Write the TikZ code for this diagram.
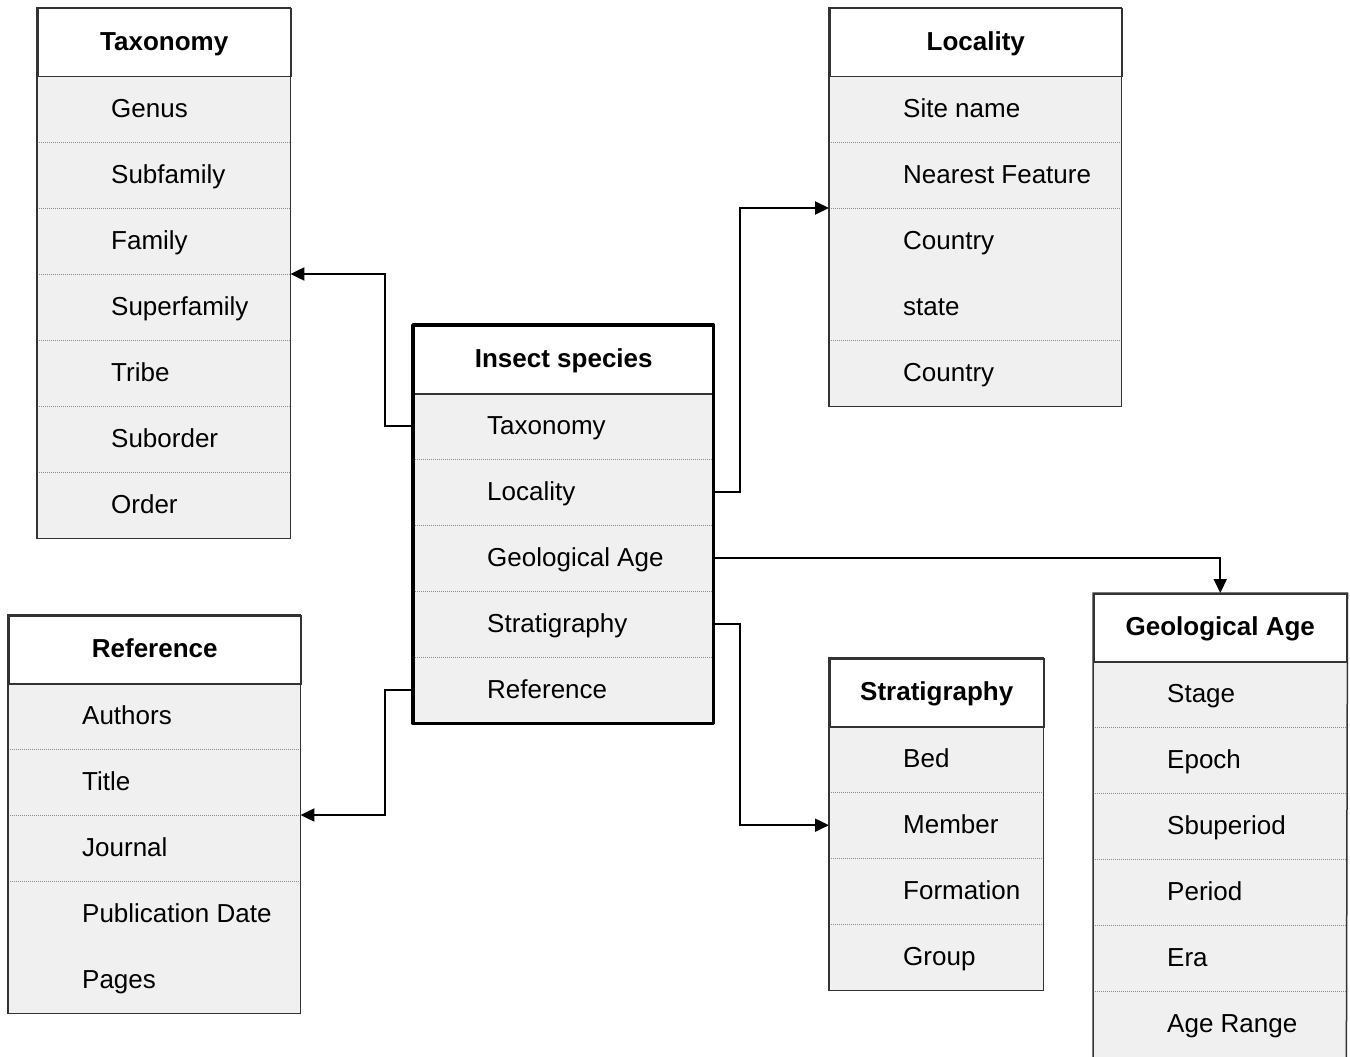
\documentclass[tikz,border=0pt]{standalone}
\usepackage{fontspec}
\setmainfont{Liberation Sans}
\usetikzlibrary{arrows.meta}
\definecolor{rowfill}{HTML}{F0F0F0}
\definecolor{framecol}{HTML}{333333}
\definecolor{sepcol}{HTML}{8C8C8C}
\tikzset{
  hdrbox/.style={draw=framecol, line width=1.5pt, fill=white, anchor=north west, minimum height=68pt, inner sep=0pt},
  hdrtext/.style={anchor=base, inner sep=0pt, font=\fontsize{26}{30}\selectfont\bfseries},
  rowbox/.style={fill=rowfill, anchor=north west, minimum height=66pt, inner sep=0pt},
  rowtext/.style={anchor=base west, inner sep=0pt, font=\fontsize{26}{30}\selectfont},
  sepline/.style={draw=sepcol, line width=0.8pt, dash pattern=on 1.2pt off 0.8pt},
  frame/.style={draw=framecol, line width=1.5pt},
  thickframe/.style={draw=black, line width=3.5pt, line join=round},
  conn/.style={draw=black, line width=2pt, -{Triangle[length=14pt,width=13pt]}},
}
\newcommand{\mktable}[6]{%
  \foreach \lbl [count=\i] in {#6} {
    \node[rowbox, minimum width=#4pt] (#1-\i) at (#2,{#3+68+66*(\i-1)}) {};
    \node[rowtext] (#1-\i-t) at ([xshift=74pt,yshift=-8pt]#1-\i.west) {\lbl};
  }
  \node[hdrbox, minimum width=#4pt] (#1) at (#2,#3) {};
  \node[hdrtext] (#1-t) at ([yshift=-7.5pt]#1.center) {#5};
}
\newcommand{\mksep}[2]{%
  \foreach \i in {#2} {\draw[sepline] (#1-\i.north west) -- (#1-\i.north east);}
}
\begin{document}
\begin{tikzpicture}[x=1pt, y=-1pt]
\useasboundingbox (0,0) rectangle (1350,1057);

% Taxonomy
\mktable{tax}{37}{8}{253}{Taxonomy}{Genus,Subfamily,Family,Superfamily,Tribe,Suborder,Order}
\mksep{tax}{2,3,4,5,6,7}
\draw[frame] (tax.north west) rectangle (tax-7.south east);

% Locality
\mktable{loc}{829}{8}{292}{Locality}{Site name,Nearest Feature,Country,state,Country}
\mksep{loc}{2,3,5}
\draw[frame] (loc.north west) rectangle (loc-5.south east);

% Insect species
\mktable{ins}{413}{325}{300}{Insect species}{Taxonomy,Locality,Geological Age,Stratigraphy,Reference}
\mksep{ins}{2,3,4,5}
\draw[thickframe] (ins.north west) rectangle (ins-5.south east);

% Reference
\mktable{ref}{8}{615}{292}{Reference}{Authors,Title,Journal,Publication Date,Pages}
\mksep{ref}{2,3,4}
\draw[frame] (ref.north west) rectangle (ref-5.south east);

% Stratigraphy
\mktable{str}{829}{658}{214}{Stratigraphy}{Bed,Member,Formation,Group}
\mksep{str}{2,3,4}
\draw[frame] (str.north west) rectangle (str-4.south east);

% Geological Age
\mktable{geo}{1093}{593}{253}{Geological Age}{Stage,Epoch,Sbuperiod,Period,Era,Age Range}
\mksep{geo}{2,3,4,5,6}
\draw[frame] (geo-6.south west) -- (geo.north west) -- (geo.north east) -- (geo-6.south east);

% Connectors
\draw[conn] (ins-1.west) -- ++(-28,0) |- (tax-4.north east);
\draw[conn] (ins-2.east) -- ++(27,0) |- (loc-3.north west);
\draw[conn] (ins-3.east) -| (geo.north);
\draw[conn] (ins-4.east) -- ++(27,0) |- (str-2.west);
\draw[conn] (ins-5.west) -- ++(-28,0) |- (ref-3.north east);
\end{tikzpicture}
\end{document}
